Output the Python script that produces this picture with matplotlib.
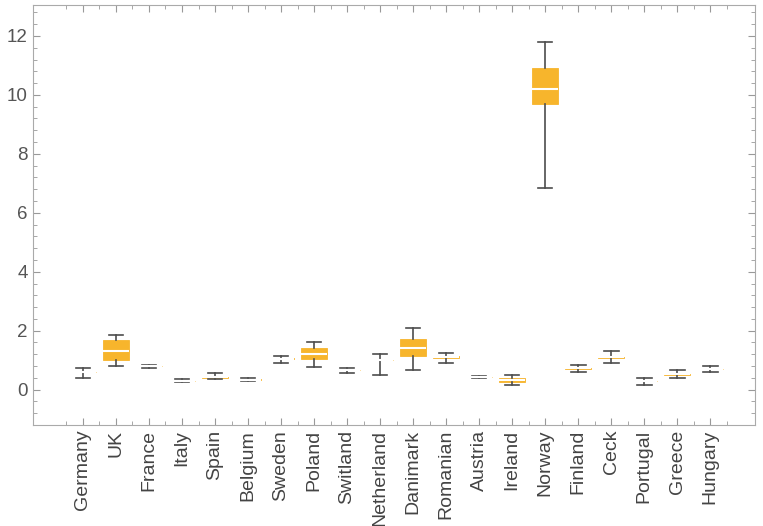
import matplotlib.pyplot as plt
from matplotlib.ticker import MultipleLocator
import numpy as np

plt.rcParams['font.family'] = ['Liberation Sans', 'DejaVu Sans']

countries = ['Germany', 'UK', 'France', 'Italy', 'Spain', 'Belgium', 'Sweden',
             'Poland', 'Switland', 'Netherland', 'Danimark', 'Romanian', 'Austria',
             'Ireland', 'Norway', 'Finland', 'Ceck', 'Portugal', 'Greece', 'Hungary']
lows  = [0.40, 0.80, 0.75, 0.25, 0.35, 0.28, 0.92, 0.78, 0.58, 0.50,
         0.68, 0.92, 0.40, 0.15, 6.85, 0.60, 0.90, 0.17, 0.38, 0.60]
q1s   = [0.59, 1.00, 0.79, 0.29, 0.41, 0.33, 1.03, 1.05, 0.65, 0.99,
         1.15, 1.07, 0.42, 0.25, 9.70, 0.71, 1.08, 0.29, 0.51, 0.69]
meds  = [0.60, 1.30, 0.80, 0.30, 0.42, 0.34, 1.05, 1.20, 0.66, 1.00,
         1.40, 1.10, 0.42, 0.32, 10.20, 0.72, 1.10, 0.30, 0.52, 0.70]
q3s   = [0.61, 1.70, 0.81, 0.31, 0.44, 0.35, 1.07, 1.40, 0.67, 1.02,
         1.73, 1.13, 0.43, 0.40, 10.90, 0.73, 1.12, 0.31, 0.53, 0.71]
highs = [0.75, 1.87, 0.85, 0.35, 0.58, 0.40, 1.15, 1.63, 0.75, 1.20,
         2.10, 1.25, 0.45, 0.50, 11.80, 0.85, 1.32, 0.40, 0.65, 0.80]

stats = [dict(label=c, whislo=lo, q1=a, med=m, q3=b, whishi=hi, fliers=[])
         for c, lo, a, m, b, hi in zip(countries, lows, q1s, meds, q3s, highs)]

fig = plt.figure(figsize=(7.63, 5.26), dpi=100)
ax = fig.add_axes([0.043, 0.192, 0.9465, 0.7985])

pos = np.arange(1, len(countries) + 1)
ax.bxp(stats, positions=pos, widths=0.8, patch_artist=True, showfliers=False,
       boxprops=dict(facecolor='#F7B52C', edgecolor='#F7B52C', linewidth=0.6),
       medianprops=dict(color='white', linewidth=1.5),
       whiskerprops=dict(color='#4d4d4d', linewidth=1.2),
       capprops=dict(color='#4d4d4d', linewidth=1.2),
       capwidths=0.45)

ax.set_xlim(-0.52, 21.36)
ax.set_ylim(-1.2, 13.05)
ax.set_xticks(pos)
ax.set_xticklabels(countries, rotation=90, fontsize=14, color='#444444')
ax.set_xticks(np.arange(0.5, 21.5, 1), minor=True)
ax.yaxis.set_major_locator(MultipleLocator(2))
ax.yaxis.set_minor_locator(MultipleLocator(0.4))
ax.tick_params(axis='y', labelsize=13.5, labelcolor='#555555')
ax.tick_params(which='both', direction='in', color='#999999',
               top=True, right=True)
ax.tick_params(which='major', length=5)
ax.tick_params(which='minor', length=3)
for s in ax.spines.values():
    s.set_color('#aaaaaa')

fig.savefig('out.png', dpi=100)
